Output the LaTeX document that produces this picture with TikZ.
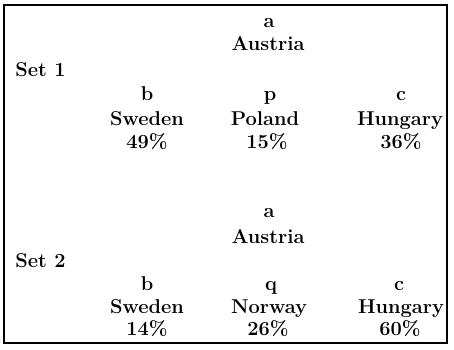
\documentclass[tikz,border=0pt]{standalone}
\begin{document}
\begin{tikzpicture}[x=0.75pt,y=-0.75pt,
  lbl/.style={inner sep=0pt,anchor=base,font=\fontsize{15}{18}\selectfont\bfseries},
  setlbl/.style={lbl,anchor=base west}]
\useasboundingbox (0,0) rectangle (454,350);
\draw[line width=1.5pt] (4,5) rectangle (447,343);
% Set 1
\node[lbl] (s1a) at (269,27) {a};
\node[lbl] (s1aus) at (268,50) {Austria};
\node[setlbl] (set1) at (15,76) {Set 1};
\node[lbl] (s1b) at (147,100) {b};
\node[lbl] (s1swe) at (147,125) {Sweden};
\node[lbl] (s1bp) at (147,148) {49\%};
\node[lbl] (s1p) at (270,100) {p};
\node[lbl] (s1pol) at (265,125) {Poland};
\node[lbl] (s1pp) at (267,148) {15\%};
\node[lbl] (s1c) at (401,100) {c};
\node[lbl] (s1hun) at (400,125) {Hungary};
\node[lbl] (s1cp) at (401,148) {36\%};
% Set 2
\node[lbl] (s2a) at (269,217) {a};
\node[lbl] (s2aus) at (268,243) {Austria};
\node[setlbl] (set2) at (15,267) {Set 2};
\node[lbl] (s2b) at (147,290) {b};
\node[lbl] (s2swe) at (147,313) {Sweden};
\node[lbl] (s2bp) at (147,335) {14\%};
\node[lbl] (s2q) at (271,290) {q};
\node[lbl] (s2nor) at (269,313) {Norway};
\node[lbl] (s2qp) at (268,335) {26\%};
\node[lbl] (s2c) at (399,290) {c};
\node[lbl] (s2hun) at (401,313) {Hungary};
\node[lbl] (s2cp) at (400,335) {60\%};
\end{tikzpicture}
\end{document}
